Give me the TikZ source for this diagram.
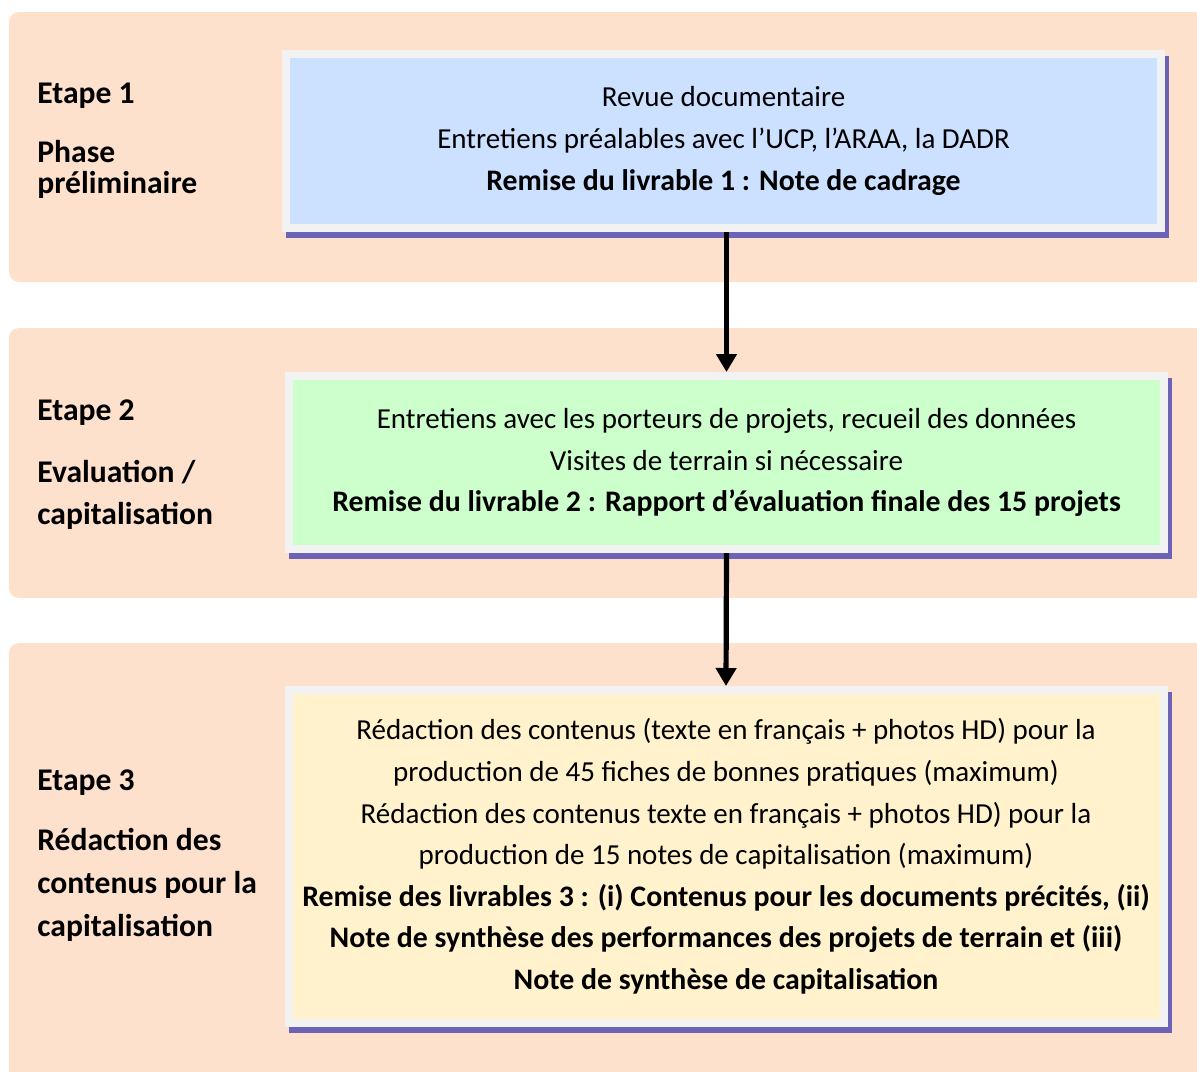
\documentclass[tikz,border=0pt]{standalone}
\usepackage{fontspec}
\setmainfont{Carlito}
\usetikzlibrary{arrows.meta}

\definecolor{bandpeach}{RGB}{253,225,204}
\definecolor{rimgray}{RGB}{242,242,242}
\definecolor{shadowblue}{RGB}{108,98,182}
\definecolor{phaseblue}{RGB}{204,224,255}
\definecolor{phasegreen}{RGB}{204,255,204}
\definecolor{phaseyellow}{RGB}{255,242,204}

\newcommand{\deliv}[1]{{\fontsize{14.9}{20.8}\selectfont\bfseries #1}}

\begin{document}
\begin{tikzpicture}[x=0.5pt,y=-0.5pt,
    band/.style={fill=bandpeach, rounded corners=5pt},
    stagelabel/.style={anchor=base west, inner sep=0pt, align=left,
        font=\fontsize{15.8}{16}\selectfont\bfseries},
    phasebox/.style={draw=rimgray, line width=4pt, minimum width=437.5pt,
        align=center, font=\fontsize{14.5}{20.8}\selectfont,
        preaction={draw=shadowblue, fill=shadowblue, line width=4pt,
            transform canvas={shift={(2pt,-3pt)}}}},
    flow/.style={-{Triangle[width=10pt,length=9pt]}, line width=2.6pt}]

    % Page frame
    \useasboundingbox (0,0) rectangle (1197,1071);
    \clip (0,0) rectangle (1197,1071);

    % Draw the three stage bands
    \fill[band] (9,12) rectangle (1220,282);
    \fill[band] (9,328) rectangle (1220,598);
    \fill[band] (9,643) rectangle (1220,1090);

    % Stage names on the left (base = last line)
    \node[stagelabel] (etape1) at (37,103) {Etape 1};
    \node[stagelabel] (phase1) at (37,193) {Phase\\[-0.5pt]préliminaire};
    \node[stagelabel] (etape2) at (37,420) {Etape 2};
    \node[stagelabel] (phase2) at (37,524) {Evaluation /\\[5pt]capitalisation};
    \node[stagelabel] (etape3) at (37,790) {Etape 3};
    \node[stagelabel] (phase3) at (37,936) {Rédaction des\\[5.5pt]contenus pour la\\[5.5pt]capitalisation};

    % Activity boxes
    \node[phasebox, fill=phaseblue, minimum height=87pt] (box1) at (723.5,141)
        {Revue documentaire\\
         Entretiens préalables avec l’UCP, l’ARAA, la DADR\\
         \deliv{Remise du livrable 1 : Note de cadrage}};
    \node[phasebox, fill=phasegreen, minimum height=86.5pt] (box2) at (726.5,462.5)
        {Entretiens avec les porteurs de projets, recueil des données\\
         Visites de terrain si nécessaire\\
         \deliv{Remise du livrable 2 : Rapport d’évaluation finale des 15 projets}};
    \node[phasebox, fill=phaseyellow, minimum height=166.5pt] (box3) at (726,856.5)
        {Rédaction des contenus (texte en français + photos HD) pour la\\
         production de 45 fiches de bonnes pratiques (maximum)\\
         Rédaction des contenus texte en français + photos HD) pour la\\
         production de 15 notes de capitalisation (maximum)\\
         \deliv{Remise des livrables 3 : (i) Contenus pour les documents précités, (ii)}\\
         \deliv{Note de synthèse des performances des projets de terrain et (iii)}\\
         \deliv{Note de synthèse de capitalisation}};

    % Draw the flow between stages
    \draw[flow] (box1.south -| box2.north) -- (box2.north);
    \draw[flow] (box2.south) -- (box3.north);

\end{tikzpicture}
\end{document}
